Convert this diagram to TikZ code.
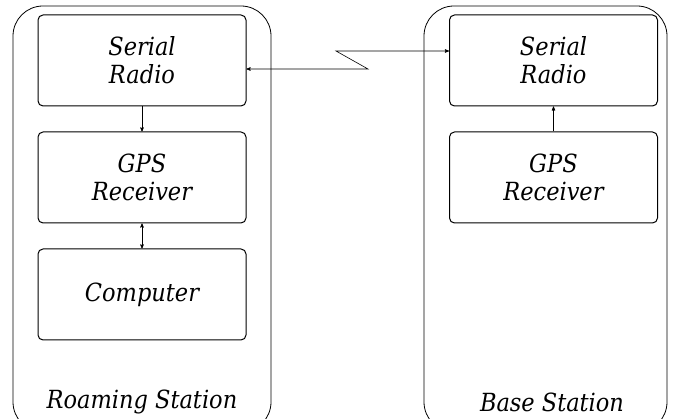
\documentclass[tikz,border=0pt]{standalone}
\usepackage{fontspec}
\setmainfont{DejaVu Serif Condensed}
\usetikzlibrary{arrows,positioning}

\begin{document}
\begin{tikzpicture}[x=1pt,y=-1pt,>=stealth',node distance=25pt,
		station/.style={draw,line width=0.8pt,rounded corners=30pt},
		unit/.style={draw,line width=1pt,rounded corners=5pt,minimum width=208pt,minimum height=91pt,
			align=center,font=\fontsize{25}{28}\selectfont\itshape},
		caption/.style={font=\fontsize{25}{28}\selectfont\itshape},
		link/.style={->,line width=0.6pt}]

	\useasboundingbox (0,0) rectangle (673,419);

	% the two stations
	\draw[station] (13,6) rectangle (271,432);
	\draw[station] (424,6) rectangle (667,432);
	\node[caption] (roam) at (142,402) {Roaming Station};
	\node[caption] (base) at (552,402) {Base Station};

	% roaming side
	\node[unit] (radio1) at (142,60.5) {Serial\\Radio};
	\node[unit] (gps1)[below=of radio1] {GPS\\Receiver};
	\node[unit] (pc)[below=of gps1] {Computer};

	% base side
	\node[unit] (radio2) at (553.5,60.5) {Serial\\Radio};
	\node[unit] (gps2)[below=of radio2] {GPS\\Receiver};

	\path[link]
	(radio1) edge (gps1)
	(gps1) edge [<->] (pc)
	(gps2) edge (radio2);

	% radio link
	\coordinate (kink1) at (368,69);
	\coordinate (kink2) at (336,51);
	\draw[link,<->] ([yshift=-8.5pt]radio1.east) -- (kink1) -- (kink2) -- ([yshift=9.5pt]radio2.west);
\end{tikzpicture}
\end{document}
